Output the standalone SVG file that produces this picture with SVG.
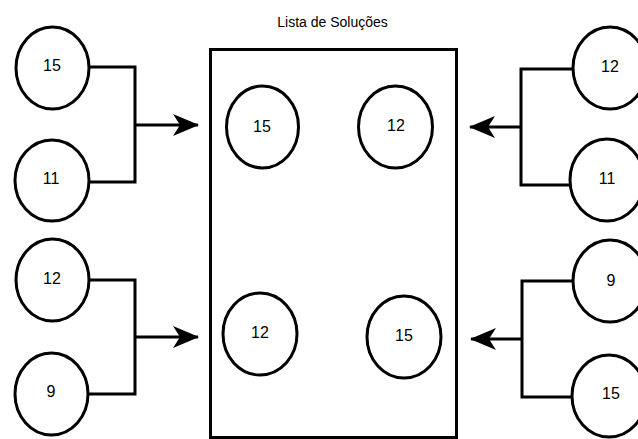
<svg xmlns="http://www.w3.org/2000/svg" width="638" height="439" viewBox="0 0 638 439">
  <defs>
    <marker id="arrow" viewBox="0 0 26 24" refX="25" refY="12" markerWidth="26" markerHeight="24" markerUnits="userSpaceOnUse" orient="auto">
      <path d="M0,1 L26,12 L0,23 L7,12 Z" fill="#000"/>
    </marker>
    <style>
      .node { fill: #fff; stroke: #000; stroke-width: 3; }
      .label { font-family: "Liberation Sans", Arial, sans-serif; font-size: 16px; fill: #000; text-anchor: middle; dominant-baseline: central; }
      .title { font-family: "Liberation Sans", Arial, sans-serif; font-size: 14px; fill: #000; text-anchor: middle; dominant-baseline: central; }
      .wire { fill: none; stroke: #000; stroke-width: 3; }
      .box { fill: #fff; stroke: #000; stroke-width: 3; }
    </style>
  </defs>
  <rect width="638" height="439" fill="#fff"/>

  <!-- solution list container -->
  <g id="lista">
    <rect class="box" x="210.5" y="49.5" width="246" height="388"/>
    <text class="title" x="332.5" y="22">Lista de Soluções</text>
  </g>

  <!-- connectors -->
  <g id="connectors">
    <polyline class="wire" points="89,67 135,67 135,182 89,182"/>
    <line class="wire" x1="135" y1="125" x2="198" y2="125" marker-end="url(#arrow)"/>
    <polyline class="wire" points="89,280 135,280 135,394 88,394"/>
    <line class="wire" x1="135" y1="337" x2="198" y2="337" marker-end="url(#arrow)"/>
    <polyline class="wire" points="573,69 521,69 521,185 570,185"/>
    <line class="wire" x1="521" y1="127" x2="470" y2="127" marker-end="url(#arrow)"/>
    <polyline class="wire" points="573,281 522,281 522,397 571,397"/>
    <line class="wire" x1="522" y1="339" x2="471" y2="339" marker-end="url(#arrow)"/>
  </g>

  <!-- left inputs -->
  <g id="l15"><ellipse class="node" cx="52.5" cy="68" rx="36.5" ry="41"/><text class="label" x="52" y="65">15</text></g>
  <g id="l11"><ellipse class="node" cx="52" cy="180.5" rx="37" ry="40.5"/><text class="label" x="51" y="178">11</text></g>
  <g id="l12"><ellipse class="node" cx="52.5" cy="280" rx="36.5" ry="41"/><text class="label" x="52" y="278">12</text></g>
  <g id="l9"><ellipse class="node" cx="51.5" cy="394" rx="36.5" ry="41"/><text class="label" x="51" y="391">9</text></g>

  <!-- right inputs -->
  <g id="r12"><ellipse class="node" cx="610" cy="68" rx="37" ry="41"/><text class="label" x="610" y="66">12</text></g>
  <g id="r11"><ellipse class="node" cx="607" cy="180" rx="37" ry="41"/><text class="label" x="607" y="178">11</text></g>
  <g id="r9"><ellipse class="node" cx="610" cy="281" rx="37" ry="41"/><text class="label" x="611" y="280">9</text></g>
  <g id="r15"><ellipse class="node" cx="609" cy="396" rx="37" ry="41"/><text class="label" x="611" y="393">15</text></g>

  <!-- items inside the list -->
  <g id="s15a"><ellipse class="node" cx="262.5" cy="127" rx="36" ry="41"/><text class="label" x="262" y="126">15</text></g>
  <g id="s12a"><ellipse class="node" cx="395.5" cy="127" rx="37" ry="41"/><text class="label" x="396" y="125">12</text></g>
  <g id="s12b"><ellipse class="node" cx="260" cy="334" rx="37" ry="41"/><text class="label" x="260" y="332">12</text></g>
  <g id="s15b"><ellipse class="node" cx="404" cy="337" rx="37" ry="41"/><text class="label" x="404" y="335">15</text></g>
</svg>
